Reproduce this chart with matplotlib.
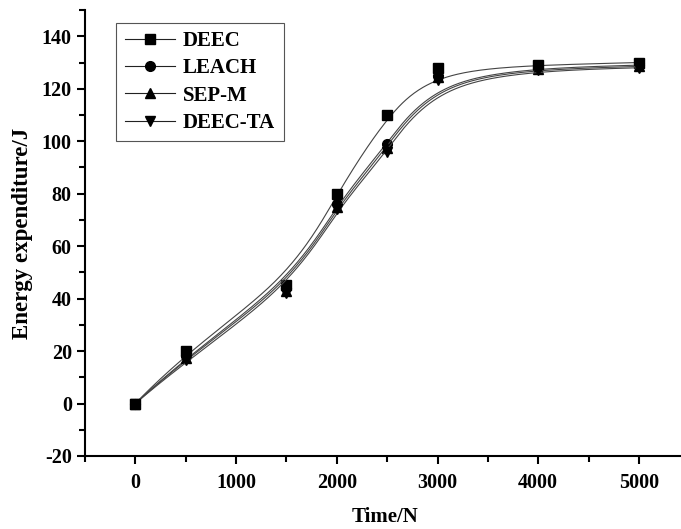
import numpy as np
import matplotlib
matplotlib.use("Agg")
import matplotlib.pyplot as plt

time_n = [0, 500, 1500, 2000, 2500, 3000, 4000, 5000]
deec = [0, 20, 45, 80, 110, 128, 129, 130]
leach = [0, 18, 44, 76, 99, 125, 128, 129]
sep_m = [0, 17.5, 43, 75, 97.5, 124.5, 127.5, 128.5]
deec_ta = [0, 16.5, 42, 74, 96, 123.5, 127, 128]

names = ["DEEC", "LEACH", "SEP-M", "DEEC-TA"]
markers = ["s", "o", "^", "v"]

plt.rcParams['font.family'] = ['Liberation Serif', 'DejaVu Serif']
plt.rcParams['font.weight'] = 'bold'
plt.rcParams['axes.unicode_minus'] = False


def bspline(xs, ys, num=300):
    # clamped cubic B-spline, data points used as control points (Origin style)
    P = np.column_stack([xs, ys]).astype(float)
    n = len(P)
    k = 3
    knots = np.concatenate([np.zeros(k), np.arange(n - k + 1), np.full(k, n - k)]).astype(float)
    t = np.linspace(0, n - k, num)
    t[-1] -= 1e-9
    N = np.zeros((num, len(knots) - 1))
    for i in range(len(knots) - 1):
        N[:, i] = (knots[i] <= t) & (t < knots[i + 1])
    for d in range(1, k + 1):
        Nn = np.zeros((num, len(knots) - 1 - d))
        for i in range(len(knots) - 1 - d):
            a = knots[i + d] - knots[i]
            b = knots[i + d + 1] - knots[i + 1]
            term = 0
            if a > 0:
                term = term + (t - knots[i]) / a * N[:, i]
            if b > 0:
                term = term + (knots[i + d + 1] - t) / b * N[:, i + 1]
            Nn[:, i] = term
        N = Nn
    C = N @ P
    return C[:, 0], C[:, 1]


fig = plt.figure(figsize=(6.81, 5.29), dpi=100)
ax = fig.add_axes([0.1248, 0.138, 0.88, 0.843])

for vals, name, m in zip([deec, leach, sep_m, deec_ta], names, markers):
    cx, cy = bspline(time_n, vals)
    ax.plot(cx, cy, color='#444444', lw=0.8)
    ax.plot(time_n, vals, linestyle='none', marker=m, color='black', ms=7)
    ax.plot([], [], color='#222222', lw=0.8, marker=m, ms=7, mfc='black', mec='black', label=name)

ax.set_xlim(-500, 5450)
ax.set_ylim(-20, 150)
ax.set_xticks([0, 1000, 2000, 3000, 4000, 5000])
ax.set_xticks(np.arange(-500, 5500, 500), minor=True)
ax.set_yticks(np.arange(-20, 141, 20))
ax.set_yticks(np.arange(-20, 151, 10), minor=True)
for s in ['top', 'right']:
    ax.spines[s].set_visible(False)
for s in ['left', 'bottom']:
    ax.spines[s].set_linewidth(1.5)
ax.tick_params(which='major', direction='out', length=6, width=1.5, labelsize=14.5)
ax.tick_params(axis='x', which='major', pad=6)
ax.tick_params(which='minor', direction='out', length=4, width=1.5)
for lab in ax.get_xticklabels() + ax.get_yticklabels():
    lab.set_fontweight('bold')

ax.set_xlabel("Time/N", fontsize=15, fontweight='bold', labelpad=10)
ax.set_ylabel("Energy expenditure/J", fontsize=16.5, fontweight='bold', labelpad=6)

leg = ax.legend(loc='upper left', bbox_to_anchor=(0.035, 0.995),
                prop={'weight': 'bold', 'size': 15}, handlelength=2.4,
                labelspacing=0.35, fancybox=False, framealpha=1,
                borderpad=0.4, handletextpad=0.4)
leg.get_frame().set_edgecolor('#555555')
leg.get_frame().set_linewidth(0.8)

fig.savefig("out.png", dpi=100)
